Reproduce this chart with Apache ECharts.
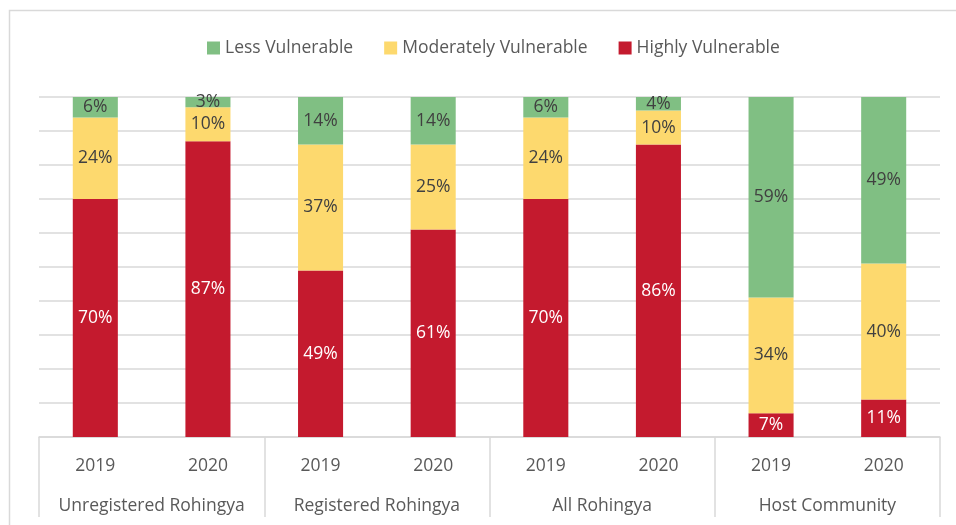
<!DOCTYPE html>
<html>
<head>
<meta charset="UTF-8">
<title>Vulnerability</title>
<script src="https://cdn.jsdelivr.net/npm/echarts@6/dist/echarts.min.js"></script>
<style>
  html, body { margin: 0; padding: 0; background: #fff; }
  #main { width: 956px; height: 525px; }
</style>
</head>
<body>
<div id="main"></div>
<script>
var years = ['2019', '2020', '2019', '2020', '2019', '2020', '2019', '2020'];
var groups = ['Unregistered Rohingya', 'Registered Rohingya', 'All Rohingya', 'Host Community'];
var highly = [70, 87, 49, 61, 70, 86, 7, 11];
var moderately = [24, 10, 37, 25, 24, 10, 34, 40];
var less = [6, 3, 14, 14, 6, 4, 59, 49];

var myChart = echarts.init(document.getElementById('main'));
var font = 'Open Sans';
var grey = '#d9d9d9';
var fs = 17.5;

function bar(name, data, color, labelColor) {
    return {
        name: name,
        type: 'bar',
        stack: 'all',
        data: data,
        barCategoryGap: '60%',
        itemStyle: { color: color },
        label: {
            show: true,
            position: 'inside',
            formatter: '{c}%',
            color: labelColor,
            fontFamily: font,
            fontSize: fs
        }
    };
}

var option = {
    animation: false,
    textStyle: { fontFamily: font },
    graphic: [{
        type: 'rect',
        shape: { x: 9.5, y: 10.5, width: 980, height: 560 },
        style: { fill: null, stroke: grey, lineWidth: 1.5 }
    }],
    legend: {
        top: 34,
        left: 202,
        icon: 'rect',
        itemWidth: 13,
        itemHeight: 13,
        itemGap: 31,
        data: ['Less Vulnerable', 'Moderately Vulnerable', 'Highly Vulnerable'],
        textStyle: { color: '#595959', fontSize: fs, fontFamily: font }
    },
    grid: { left: 39, right: 16, top: 97, bottom: 88 },
    yAxis: {
        type: 'value',
        min: 0,
        max: 100,
        interval: 10,
        axisLabel: { show: false },
        axisLine: { show: false },
        axisTick: { show: false },
        splitLine: { lineStyle: { color: grey, width: 1.5 } }
    },
    xAxis: [{
        type: 'category',
        data: years,
        axisLine: { lineStyle: { color: grey, width: 1.5 } },
        axisTick: { show: false },
        axisLabel: { interval: 0, color: '#595959', fontSize: fs, margin: 20, fontFamily: font }
    }, {
        type: 'category',
        data: groups,
        position: 'bottom',
        axisLine: { show: false },
        axisTick: { show: true, interval: 0, length: 80, lineStyle: { color: grey, width: 1.5 } },
        axisLabel: { interval: 0, hideOverlap: false, color: '#595959', fontSize: fs, margin: 60, fontFamily: font }
    }],
    series: [
        bar('Highly Vulnerable', highly, '#c41a2e', '#ffffff'),
        bar('Moderately Vulnerable', moderately, '#fdd96e', '#404040'),
        bar('Less Vulnerable', less, '#80bf83', '#404040')
    ]
};
myChart.setOption(option);
</script>
</body>
</html>
